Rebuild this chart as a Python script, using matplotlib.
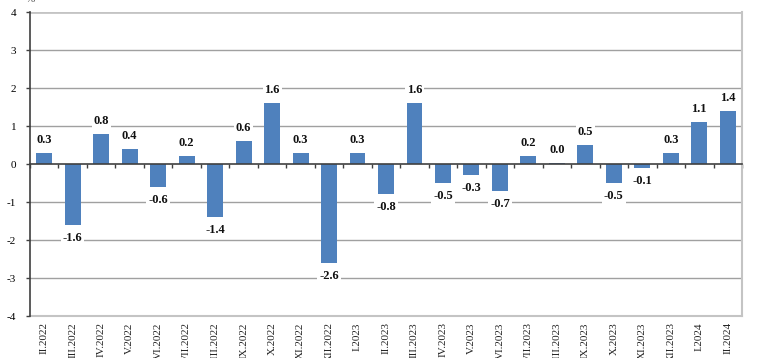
import matplotlib
matplotlib.use("Agg")
import matplotlib.pyplot as plt
import numpy as np

months = ["II", "III", "IV", "V", "VI", "VII", "VIII", "IX", "X", "XI", "XII",
          "I", "II", "III", "IV", "V", "VI", "VII", "VIII", "IX", "X", "XI", "XII",
          "I", "II"]
years = [2022] * 11 + [2023] * 12 + [2024] * 2
labels = [f"{m}.{y}" for m, y in zip(months, years)]
values = [0.3, -1.6, 0.8, 0.4, -0.6, 0.2, -1.4, 0.6, 1.6, 0.3, -2.6,
          0.3, -0.8, 1.6, -0.5, -0.3, -0.7, 0.2, 0.03, 0.5, -0.5, -0.1,
          0.3, 1.1, 1.4]

plt.rcParams['font.family'] = ['Liberation Serif', 'DejaVu Serif']

fig = plt.figure(figsize=(7.68, 3.58), dpi=100)
ax = fig.add_axes([30/768, 1 - 316/358, (742 - 30)/768, (316 - 12)/358])

x = np.arange(len(values))
ax.bar(x, values, width=0.56, color="#4F81BD", zorder=3)

ax.set_xlim(-0.5, len(values) - 0.5)
ax.set_ylim(-4, 4)
ax.set_yticks(range(-4, 5))
ax.set_yticklabels([str(v) for v in range(-4, 5)], fontsize=8)
ax.tick_params(axis='y', direction='out', length=3, width=1, color="#404040", pad=7)

# gridlines
for v in range(-3, 4):
    if v == 0:
        continue
    ax.axhline(v, color="#a0a0a0", lw=1.0, zorder=1)
ax.axhline(4, color="#c4c4c4", lw=2.0, zorder=1)

# spines
ax.spines['left'].set_color("#404040")
ax.spines['left'].set_linewidth(1.2)
ax.spines['right'].set_color("#c4c4c4")
ax.spines['right'].set_linewidth(1.5)
ax.spines['top'].set_visible(False)
ax.spines['bottom'].set_position(('data', 0))
ax.spines['bottom'].set_color("#404040")
ax.spines['bottom'].set_linewidth(1.2)
ax.spines['bottom'].set_zorder(4)

# category boundary ticks on the zero line
ax.set_xticks(np.arange(len(values) + 1) - 0.5)
ax.set_xticklabels([])
ax.tick_params(axis='x', direction='out', length=3, width=1, color="#404040")

# labels axis at bottom
sec = ax.secondary_xaxis(0.0)
sec.set_xticks(x)
sec.set_xticklabels(labels, rotation=90, fontsize=8, va='top', ha='center',
                    color="#222222")
sec.tick_params(axis='x', length=0, pad=4.5)
sec.spines['bottom'].set_color("#c4c4c4")
sec.spines['bottom'].set_linewidth(1.5)

# data labels
for xi, v in zip(x, values):
    if v >= 0:
        off, va = 5, 'bottom'
    else:
        off, va = -5, 'top'
    ax.annotate(f"{v:.1f}", (xi, v), xytext=(0, off), textcoords='offset points',
                ha='center', va=va, fontsize=9, fontweight='bold', color="#111111",
                bbox=dict(boxstyle='square,pad=0.15', fc='white', ec='none'), zorder=5)

fig.text(30/768, 1.0, "%", fontsize=8, ha='center', va='center', color="#555555")

fig.savefig("out.png", dpi=100)
